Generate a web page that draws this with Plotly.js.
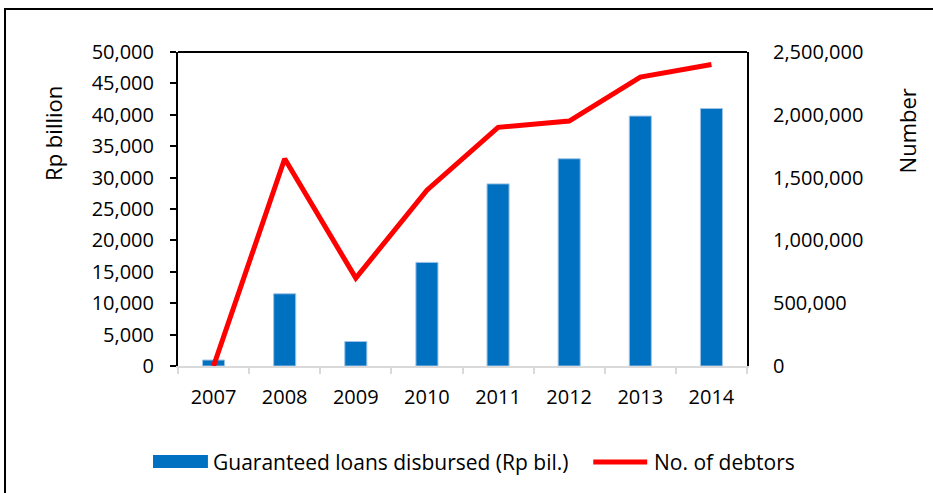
<!DOCTYPE html>
<html>
<head>
<meta charset="utf-8">
<script src="https://cdn.plot.ly/plotly-3.0.1.min.js"></script>
<style>
  html, body { margin: 0; padding: 0; background: #fff; }
  #frame { position: absolute; left: 4px; top: 8px; width: 940px; height: 500px; border: 2px solid #000; box-sizing: border-box; }
  #chart { position: absolute; left: 0; top: 0; width: 933px; height: 493px; }
</style>
</head>
<body>
<div id="frame"></div>
<div id="chart"></div>
<script>
const years = ['2007', '2008', '2009', '2010', '2011', '2012', '2013', '2014'];
const loans = [950, 11500, 3900, 16500, 29000, 33000, 39800, 41000];
const debtors = [0, 1650000, 700000, 1400000, 1900000, 1950000, 2300000, 2400000];
const leftTicks = [0, 5000, 10000, 15000, 20000, 25000, 30000, 35000, 40000, 45000, 50000];
const rightTicks = [0, 500000, 1000000, 1500000, 2000000, 2500000];
const seriesNames = ['Guaranteed loans disbursed (Rp bil.)', 'No. of debtors'];

const fmt = v => v.toLocaleString('en-US');
const FONT = 'Open Sans, Noto Sans, sans-serif';
const BLUE = '#0070C0', RED = '#FF0000';

const traces = [
  {
    type: 'bar', x: years, y: loans, name: seriesNames[0],
    marker: { color: BLUE, line: { color: '#9DC3E6', width: 1 } },
    yaxis: 'y', hoverinfo: 'x+y'
  },
  {
    type: 'scatter', mode: 'lines', x: years, y: debtors, name: seriesNames[1],
    line: { color: RED, width: 5 }, yaxis: 'y2'
  }
];

const legendFont = { family: FONT, size: 21, color: '#000' };
const titleFont = { family: FONT, size: 22, color: '#000' };

const layout = {
  width: 933, height: 493,
  margin: { l: 178, r: 186, t: 52, b: 127 },
  paper_bgcolor: 'rgba(0,0,0,0)', plot_bgcolor: '#fff',
  font: { family: FONT, size: 20, color: '#000' },
  bargap: 0.69,
  showlegend: false,
  xaxis: {
    type: 'category', showline: true, linecolor: '#D9D9D9', linewidth: 2,
    ticks: 'outside', tickson: 'boundaries', ticklen: 6, tickcolor: '#D9D9D9', tickwidth: 2,
    showgrid: false, zeroline: false, ticklabelstandoff: 12,
    tickfont: { family: FONT, size: 20, color: '#000' }
  },
  yaxis: {
    range: [0, 50000], tickvals: leftTicks, ticktext: leftTicks.map(fmt),
    showline: true, linecolor: '#000', linewidth: 2,
    ticks: 'outside', ticklen: 6, tickcolor: '#000', tickwidth: 2,
    showgrid: false, zeroline: false, ticklabelstandoff: 12,
    tickfont: { family: FONT, size: 20, color: '#000' }
  },
  yaxis2: {
    overlaying: 'y', side: 'right', range: [0, 2500000],
    tickvals: rightTicks, ticktext: rightTicks.map(fmt),
    showline: true, linecolor: '#000', linewidth: 2,
    ticks: '', showgrid: false, zeroline: false, ticklabelstandoff: 20,
    tickfont: { family: FONT, size: 20, color: '#000' }
  },
  shapes: [
    { type: 'line', xref: 'paper', yref: 'paper', x0: 0, x1: 1, y0: 1, y1: 1, line: { color: '#000', width: 2 } },
    // legend key: bar swatch
    { type: 'rect', xref: 'paper', yref: 'paper', x0: -0.0439, x1: 0.0526, y0: -0.2834, y1: -0.3248,
      fillcolor: BLUE, line: { width: 0 } },
    // legend key: line swatch
    { type: 'line', xref: 'paper', yref: 'paper', x0: 0.7298, x1: 0.8246, y0: -0.3057, y1: -0.3057,
      line: { color: RED, width: 5 } }
  ],
  annotations: [
    { text: 'Rp billion', xref: 'paper', yref: 'paper', x: -0.221, y: 0.74, textangle: -90,
      showarrow: false, xanchor: 'center', yanchor: 'middle', font: titleFont },
    { text: 'Number', xref: 'paper', yref: 'paper', x: 1.281, y: 0.75, textangle: -90,
      showarrow: false, xanchor: 'center', yanchor: 'middle', font: titleFont },
    { text: seriesNames[0], xref: 'paper', yref: 'paper', x: 0.0579, y: -0.3057,
      showarrow: false, xanchor: 'left', yanchor: 'middle', font: legendFont },
    { text: seriesNames[1], xref: 'paper', yref: 'paper', x: 0.8333, y: -0.3057,
      showarrow: false, xanchor: 'left', yanchor: 'middle', font: legendFont }
  ]
};

Plotly.newPlot('chart', traces, layout, { displayModeBar: false, responsive: false });
</script>
</body>
</html>
